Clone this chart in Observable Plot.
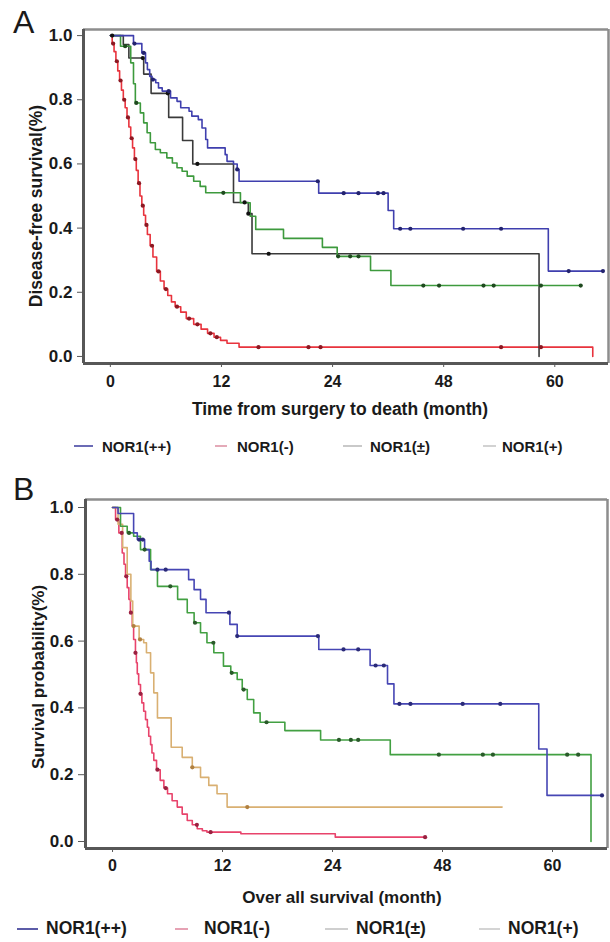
<!DOCTYPE html>
<html><head><meta charset="utf-8">
<script src="https://cdn.jsdelivr.net/npm/d3@7"></script>
<script src="https://cdn.jsdelivr.net/npm/@observablehq/plot@0.6"></script>
<style>
body{margin:0;background:#fff;}
#wrap{position:relative;width:610px;height:942px;font-family:"Liberation Sans",Arial,sans-serif;overflow:hidden;background:#fff}
.abs{position:absolute;white-space:nowrap;line-height:1;color:#1a1a1a}
.svgbox{position:absolute;left:0}
</style></head><body><div id="wrap"></div>
<script>
// ---------- tick labels ----------
const xTickValues = [0, 12, 24, 36, 48];
const xTickLabels = ["0", "12", "24", "48", "60"];
const yTickValues = [0, 0.2, 0.4, 0.6, 0.8, 1.0];
const seriesNames = ["NOR1(++)", "NOR1(-)", "NOR1(±)", "NOR1(+)"];

// ---------- Panel A : disease-free survival, [month, survival] step points ----------
const dfsPP = [[0,1],[2.5,0.975],[3.4,0.946],[3.8,0.915],[4.0,0.894],[4.25,0.873],[4.5,0.863],[4.9,0.853],[5.2,0.837],[5.6,0.827],[6.5,0.806],[7.2,0.795],[7.6,0.775],[8.5,0.764],[8.8,0.749],[9.5,0.738],[9.9,0.712],[10.3,0.676],[10.5,0.65],[12.4,0.629],[12.6,0.608],[13.3,0.6],[13.7,0.583],[13.9,0.546],[22.5,0.509],[30.0,0.455],[30.6,0.398],[47.3,0.266],[53.2,0.266]];
const dfsNeg = [[0,1],[0.2,0.975],[0.4,0.95],[0.6,0.92],[0.8,0.89],[1.0,0.86],[1.2,0.83],[1.4,0.8],[1.6,0.775],[1.8,0.745],[2.0,0.715],[2.2,0.68],[2.4,0.65],[2.6,0.615],[2.8,0.58],[3.0,0.54],[3.2,0.5],[3.4,0.47],[3.6,0.44],[3.8,0.41],[4.0,0.38],[4.3,0.345],[4.6,0.31],[5.0,0.265],[5.4,0.235],[5.8,0.21],[6.2,0.19],[6.6,0.17],[7.0,0.155],[7.6,0.138],[8.2,0.118],[9.0,0.1],[9.8,0.085],[10.5,0.072],[11.2,0.06],[11.9,0.05],[12.6,0.041],[13.9,0.029],[52.1,0]];
const dfsPM = [[0,1],[1.4,0.972],[2.0,0.93],[3.6,0.88],[4.4,0.82],[6.3,0.745],[7.8,0.673],[8.9,0.6],[13.3,0.48],[14.9,0.445],[15.3,0.32],[46.3,0]];
const dfsPlus = [[0,1],[1.1,0.967],[2.2,0.915],[2.5,0.85],[2.7,0.79],[3.24,0.759],[3.6,0.728],[3.97,0.697],[4.32,0.666],[4.86,0.645],[5.4,0.635],[6.1,0.619],[6.7,0.603],[7.2,0.588],[7.75,0.577],[8.3,0.562],[9.0,0.546],[9.7,0.53],[10.3,0.51],[14.05,0.479],[15.1,0.437],[15.7,0.396],[18.7,0.368],[22.9,0.34],[24.5,0.312],[28.1,0.268],[30.3,0.221],[50.8,0.221]];
// censor times
const dfsPPCens = [2.6,3.6,4.6,6.3,13.7,22.4,25.2,26.8,28.9,29.5,31.3,32.4,38.1,42.2,49.5,53.2];
const dfsNegCens = [0.3,0.7,1.1,1.5,1.9,2.3,2.7,3.1,3.5,3.9,4.5,5.2,6.0,7.2,8.5,9.4,10.8,11.5,16,21.4,22.7,42.2,46.5];
const dfsPMCens = [0.2,3.5,6.2,9.4,14.5,14.9,17.1];
const dfsPlusCens = [1.6,2.8,12.2,24.6,25.9,26.8,33.8,35.5,40.3,41.4,46.5,50.8];

// ---------- Panel B : overall survival ----------
const osPP = [[0,1],[0.6,0.982],[2.3,0.924],[2.7,0.904],[3.5,0.874],[4.0,0.839],[4.2,0.814],[8.3,0.784],[8.9,0.754],[9.6,0.725],[10.2,0.685],[12.8,0.65],[13.6,0.615],[22.5,0.575],[28.1,0.527],[30.0,0.472],[30.7,0.412],[46.5,0.277],[47.4,0.138],[53.4,0.138]];
const osNeg = [[0,1],[0.33,0.964],[0.69,0.924],[1.06,0.864],[1.25,0.83],[1.42,0.794],[1.6,0.76],[1.78,0.725],[1.95,0.685],[2.15,0.645],[2.3,0.605],[2.5,0.565],[2.6,0.535],[2.7,0.502],[2.85,0.47],[3.05,0.442],[3.2,0.415],[3.4,0.39],[3.6,0.365],[3.8,0.342],[3.95,0.315],[4.15,0.29],[4.3,0.265],[4.5,0.243],[4.8,0.215],[5.2,0.183],[5.6,0.16],[6.0,0.143],[6.5,0.122],[7.06,0.103],[7.6,0.082],[8.15,0.063],[8.7,0.05],[9.24,0.038],[9.8,0.032],[10.3,0.028],[14.0,0.023],[24.3,0.013],[34.1,0.013]];
const osPM = [[0,1],[0.6,0.95],[1.1,0.88],[1.6,0.8],[2.0,0.72],[2.2,0.645],[2.9,0.605],[3.4,0.595],[3.7,0.565],[4.15,0.505],[4.5,0.445],[4.9,0.37],[6.4,0.282],[7.6,0.252],[8.7,0.222],[9.6,0.192],[10.5,0.168],[11.4,0.143],[12.5,0.103],[42.5,0.103]];
const osPlus = [[0,1],[0.87,0.944],[1.6,0.924],[2.3,0.914],[3.05,0.874],[4.15,0.814],[4.9,0.764],[7.1,0.725],[8.15,0.685],[8.9,0.655],[9.6,0.625],[10.3,0.595],[11.05,0.565],[12.1,0.525],[12.9,0.505],[13.6,0.485],[14.15,0.455],[14.7,0.425],[15.4,0.385],[16.1,0.357],[18.8,0.332],[22.7,0.304],[30.3,0.26],[52.2,0]];
const osPPCens = [2.9,3.3,4.9,5.8,12.7,13.6,22.4,25.2,26.8,28.7,29.6,31.3,32.5,38.2,42.3,53.4];
const osNegCens = [0.5,1.0,1.5,2.0,2.5,3.05,4.9,5.8,9.2,10.7,34.1];
const osPMCens = [2.3,3.0,8.7,14.7];
const osPlusCens = [1.8,3.5,6.3,9.0,11.0,13.0,14.3,16.8,24.7,26.0,26.8,35.6,40.4,41.5,49.6,50.8];

// ---------- colours ----------
const colA = {pp:"#3f3fae", neg:"#e8333d", pm:"#3a3a3a", plus:"#3d9a3d"};
const dotA = {pp:"#23236e", neg:"#8c1822", pm:"#111111", plus:"#1f4a1f"};
const colB = {pp:"#4646b4", neg:"#e8436b", pm:"#d9b072", plus:"#42a042"};
const dotB = {pp:"#2a2a78", neg:"#9a2040", pm:"#b08040", plus:"#2a5a2a"};
const legendColorsA = ["#6b6bb5","#e4aab8","#c9c9c9","#d2d2d2"];
const legendColorsB = ["#5c5ca8","#e6a2b4","#cfcfcf","#d4d4d4"];

const toObj = arr => arr.map(([t,s]) => ({t, s}));
const stepAt = (arr, t) => { let s = arr[0][1]; for (const [tt, ss] of arr) { if (tt <= t) s = ss; } return s; };
const cens = (arr, times) => times.map(t => ({t, s: stepAt(arr, t)}));

function panel(cfg) {
  const marks = [
    Plot.ruleY([cfg.yDom[1]], {stroke:"#8d8d8d", strokeWidth:2.5}),
    Plot.ruleX([cfg.xDom[1]], {stroke:"#8d8d8d", strokeWidth:2.5}),
    Plot.ruleX([cfg.xDom[0]], {stroke:"#575757", strokeWidth:3}),
    Plot.ruleY([cfg.yDom[0]], {stroke:"#575757", strokeWidth:3}),
    Plot.axisX({ticks:xTickValues, tickFormat:d => xTickLabels[xTickValues.indexOf(d)], tickSize:4, tickPadding:cfg.xPad, label:null, stroke:"#575757", fontSize:cfg.xFont, fontWeight:"bold", fill:"#1a1a1a"}),
    Plot.axisY({ticks:yTickValues, tickFormat:d3.format(".1f"), tickSize:cfg.yTick, tickPadding:5, label:null, stroke:"#575757", fontSize:17, fontWeight:"bold", fill:"#1a1a1a"})
  ];
  for (const s of cfg.series) {
    marks.push(Plot.line(toObj(s.data), {x:"t", y:"s", stroke:s.color, strokeWidth:1.6, curve:"step-after"}));
  }
  for (const s of cfg.series) {
    marks.push(Plot.dot(cens(s.data, s.cens), {x:"t", y:"s", r:2.1, fill:s.dot, stroke:"none"}));
  }
  return Plot.plot({
    width:610, height:cfg.h,
    marginLeft:cfg.ml, marginRight:cfg.mr, marginTop:29, marginBottom:cfg.mb,
    x:{domain:cfg.xDom}, y:{domain:cfg.yDom},
    style:{fontFamily:'"Liberation Sans", Arial, sans-serif', background:"transparent", color:"#1a1a1a"},
    marks
  });
}

const wrap = document.getElementById("wrap");
function place(el, top) { const d = document.createElement("div"); d.className = "svgbox"; d.style.top = top + "px"; d.appendChild(el); wrap.appendChild(d); }
function text(str, x, y, size, opts = {}) {
  const d = document.createElement("div"); d.className = "abs"; d.textContent = str;
  d.style.left = x + "px"; d.style.top = y + "px"; d.style.fontSize = size + "px";
  d.style.fontWeight = opts.weight || "bold";
  d.style.transform = opts.transform || "translate(0,-50%)";
  wrap.appendChild(d); return d;
}
function legend(colors, items, y, size) {
  items.forEach((it, i) => {
    const l = document.createElement("div"); l.className = "abs";
    l.style.left = it[0] + "px"; l.style.top = (y - 1) + "px"; l.style.width = (it[1] - it[0]) + "px";
    l.style.height = "2px"; l.style.background = colors[i];
    wrap.appendChild(l);
    text(seriesNames[i], it[2], y, size);
  });
}

place(panel({
  h:400, xDom:[-2.9, 53.8], yDom:[-0.022, 1.019], ml:83, mr:2, mb:37, xPad:8, xFont:16, yTick:6,
  series:[
    {data:dfsNeg, color:colA.neg, dot:dotA.neg, cens:dfsNegCens},
    {data:dfsPM, color:colA.pm, dot:dotA.pm, cens:dfsPMCens},
    {data:dfsPlus, color:colA.plus, dot:dotA.plus, cens:dfsPlusCens},
    {data:dfsPP, color:colA.pp, dot:dotA.pp, cens:dfsPPCens}
  ]
}), 0);

place(panel({
  h:420, xDom:[-2.95, 54.0], yDom:[-0.021, 1.024], ml:85, mr:3, mb:42, xPad:7, xFont:16, yTick:7,
  series:[
    {data:osNeg, color:colB.neg, dot:dotB.neg, cens:osNegCens},
    {data:osPM, color:colB.pm, dot:dotB.pm, cens:osPMCens},
    {data:osPlus, color:colB.plus, dot:dotB.plus, cens:osPlusCens},
    {data:osPP, color:colB.pp, dot:dotB.pp, cens:osPPCens}
  ]
}), 470);

// panel letters
text("A", 13, 22, 32, {weight:"normal"});
text("B", 13, 489, 32, {weight:"normal"});
// axis titles
text("Disease-free survival(%)", 37, 206, 17.5, {transform:"translate(-50%,-50%) rotate(-90deg)"});
text("Time from surgery to death (month)", 340, 410, 17.5, {transform:"translate(-50%,-50%)"});
text("Survival probability(%)", 38, 677, 17, {transform:"translate(-50%,-50%) rotate(-90deg)"});
text("Over all survival (month)", 342, 897, 17, {transform:"translate(-50%,-50%)"});
// legends
legend(legendColorsA, [[74,93,102],[215,227,237],[343,362,370],[483,496,502]], 446, 15);
legend(legendColorsB, [[17,38,46],[175,188,204],[325,348,356],[479,500,508]], 929, 17.5);
</script></body></html>
